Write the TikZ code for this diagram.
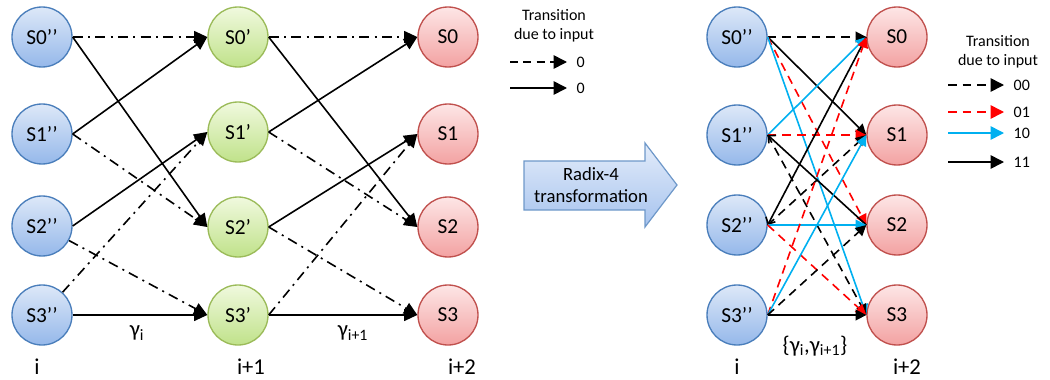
\documentclass[tikz,border=0pt]{standalone}
\usepackage{fontspec}
\setmainfont{Carlito}
\usetikzlibrary{arrows.meta}

\definecolor{bluetop}{HTML}{DDE8F8}
\definecolor{bluebot}{HTML}{95B8EA}
\definecolor{blueline}{HTML}{4A7EBB}
\definecolor{greentop}{HTML}{F0F9DE}
\definecolor{greenbot}{HTML}{C0E28A}
\definecolor{greenline}{HTML}{9BBB59}
\definecolor{redtop}{HTML}{FDE6E6}
\definecolor{redbot}{HTML}{F3A2A2}
\definecolor{redline}{HTML}{C0504D}
\definecolor{cyanline}{HTML}{00B0F0}
\definecolor{arrowtop}{HTML}{E3ECFA}
\definecolor{arrowbot}{HTML}{A6C3EE}

\begin{document}
\begin{tikzpicture}[x=0.75pt, y=-0.75pt,
    >={Triangle[length=10pt, width=9pt]},
    state/.style={circle, minimum size=45pt, inner sep=0pt, line width=1pt,
      font=\fontsize{16}{18}\selectfont},
    bluestate/.style={state, draw=blueline, top color=bluetop, bottom color=bluebot},
    greenstate/.style={state, draw=greenline, top color=greentop, bottom color=greenbot},
    redstate/.style={state, draw=redline, top color=redtop, bottom color=redbot},
    lbl/.style={font=\fontsize{17}{19}\selectfont},
    legtext/.style={font=\fontsize{12}{14}\selectfont, align=center},
    solidtr/.style={line width=1.2pt, ->},
    dashdot/.style={line width=1.2pt, ->, dash pattern=on 7.5pt off 4pt on 1.5pt off 4pt},
    e00/.style={line width=1.2pt, -{Triangle[length=8pt, width=8pt]}, dash pattern=on 6.5pt off 4.5pt},
    e01/.style={line width=1.2pt, red, -{Triangle[length=8pt, width=8pt]}, dash pattern=on 6.5pt off 4.5pt},
    e10/.style={line width=1.2pt, cyanline, -{Triangle[length=8pt, width=8pt]}},
    e11/.style={line width=1.2pt, -{Triangle[length=8pt, width=8pt]}}]

    \useasboundingbox (0,0) rectangle (1050,379);

    % 左侧网格图: 三列状态
    \node[bluestate] (a0) at (42,37) {S0’’};
    \node[bluestate] (a1) at (42,134) {S1’’};
    \node[bluestate] (a2) at (42,226) {S2’’};
    \node[bluestate] (a3) at (42,315) {S3’’};
    \node[greenstate] (b0) at (238,37) {S0’};
    \node[greenstate] (b1) at (238,132) {S1’};
    \node[greenstate] (b2) at (238,227) {S2’};
    \node[greenstate] (b3) at (238,315) {S3’};
    \node[redstate] (c0) at (448,37) {S0};
    \node[redstate] (c1) at (448,134) {S1};
    \node[redstate] (c2) at (448,227) {S2};
    \node[redstate] (c3) at (448,315) {S3};

    % 第一级转移 (i -> i+1)
    \draw[dashdot] (a0.east) -- (b0.west);
    \draw[solidtr] (a0.east) -- (b2.west);
    \draw[solidtr] (a1.east) -- (b0.west);
    \draw[dashdot] (a1.east) -- (b2.west);
    \draw[solidtr] (a2.east) -- (b1.west);
    \draw[dashdot] (a2) -- (b3.west);
    \draw[dashdot] (a3) -- (b1.west);
    \draw[solidtr] (a3.east) -- (b3.west);

    % 第二级转移 (i+1 -> i+2)
    \draw[dashdot] (b0.east) -- (c0.west);
    \draw[solidtr] (b0.east) -- (c2.west);
    \draw[solidtr] (b1.east) -- (c0.west);
    \draw[dashdot] (b1.east) -- (c2.west);
    \draw[solidtr] (b2.east) -- (c1.west);
    \draw[dashdot] (b2.east) -- (c3.west);
    \draw[dashdot] (b3.east) -- (c1.west);
    \draw[solidtr] (b3.east) -- (c3.west);

    % 分支度量与时刻标注
    \node[lbl] (ga) at (137,333) {γ\textsubscript{i}};
    \node[lbl] (gb) at (353,333) {γ\textsubscript{i+1}};
    \node[lbl] (ta) at (37,367) {i};
    \node[lbl] (tb) at (251,367) {i+1};
    \node[lbl] (tc) at (462,367) {i+2};

    % 左侧图例
    \node[legtext] (lhead) at (554,26) {Transition\\due to input};
    \coordinate (lda) at (510,62);
    \coordinate (ldb) at (567,62);
    \draw[line width=1.2pt, -{Triangle[length=10pt, width=10pt]}, dash pattern=on 6pt off 4pt] (lda) -- (ldb);
    \node[legtext, anchor=west] (lza) at (572,62) {0};
    \coordinate (lsa) at (510,88);
    \coordinate (lsb) at (567,88);
    \draw[line width=1.2pt, -{Triangle[length=10pt, width=10pt]}] (lsa) -- (lsb);
    \node[legtext, anchor=west] (lzb) at (572,88) {0};

    % 中间的大箭头
    \shade[top color=arrowtop, bottom color=arrowbot, draw=blueline!80, line width=0.9pt]
      (524,161) -- (645,161) -- (645,143) -- (677,185) -- (645,227) -- (645,210) -- (524,210) -- cycle;
    \node[font=\fontsize{14}{17}\selectfont, align=center] (radix) at (591,185) {Radix-4\\transformation};

    % 右侧网格图 (Radix-4)
    \node[bluestate] (p0) at (737,37) {S0’’};
    \node[bluestate] (p1) at (737,135) {S1’’};
    \node[bluestate] (p2) at (737,225) {S2’’};
    \node[bluestate] (p3) at (737,315) {S3’’};
    \node[redstate] (q0) at (897,37) {S0};
    \node[redstate] (q1) at (897,135) {S1};
    \node[redstate] (q2) at (897,225) {S2};
    \node[redstate] (q3) at (897,315) {S3};

    % 十六条转移
    \draw[e00] (p0.east) -- (q0.west);
    \draw[e11] (p0.east) -- (q1.west);
    \draw[e01] (p0.east) -- (q2.west);
    \draw[e10] (p0.east) -- (q3.west);
    \draw[e10] (p1.east) -- (q0.west);
    \draw[e01] (p1.east) -- (q1.west);
    \draw[e11, {Straight Barb[length=4pt]}-] (p1.east) -- (q2.west);
    \draw[e00] (p1.east) -- (q3.west);
    \draw[e11, {Straight Barb[length=4pt]}-] (p2.east) -- (q0.west);
    \draw[e00] (p2.east) -- (q1.west);
    \draw[e10] (p2.east) -- (q2.west);
    \draw[e01] (p2.east) -- (q3.west);
    \draw[e01] (p3.east) -- (q0.west);
    \draw[e10] (p3.east) -- (q1.west);
    \draw[e00] (p3.east) -- (q2.west);
    \draw[e11] (p3.east) -- (q3.west);

    \node[lbl] (gc) at (815,346) {\{γ\textsubscript{i},γ\textsubscript{i+1}\}};
    \node[lbl] (td) at (737,367) {i};
    \node[lbl] (te) at (907,367) {i+2};

    % 右侧图例
    \node[legtext] (rhead) at (998,52) {Transition\\due to input};
    \coordinate (ra0) at (948,85);  \coordinate (rb0) at (1004,85);
    \coordinate (ra1) at (948,112); \coordinate (rb1) at (1004,112);
    \coordinate (ra2) at (948,133); \coordinate (rb2) at (1004,133);
    \coordinate (ra3) at (948,162); \coordinate (rb3) at (1004,162);
    \draw[e00, -{Triangle[length=10pt, width=10pt]}] (ra0) -- (rb0);
    \draw[e01, -{Triangle[length=10pt, width=10pt]}] (ra1) -- (rb1);
    \draw[e10, -{Triangle[length=10pt, width=10pt]}] (ra2) -- (rb2);
    \draw[e11, -{Triangle[length=10pt, width=10pt]}] (ra3) -- (rb3);
    \node[legtext, anchor=west] (rl0) at (1009,85) {00};
    \node[legtext, anchor=west] (rl1) at (1009,112) {01};
    \node[legtext, anchor=west] (rl2) at (1009,133) {10};
    \node[legtext, anchor=west] (rl3) at (1009,162) {11};
\end{tikzpicture}
\end{document}
